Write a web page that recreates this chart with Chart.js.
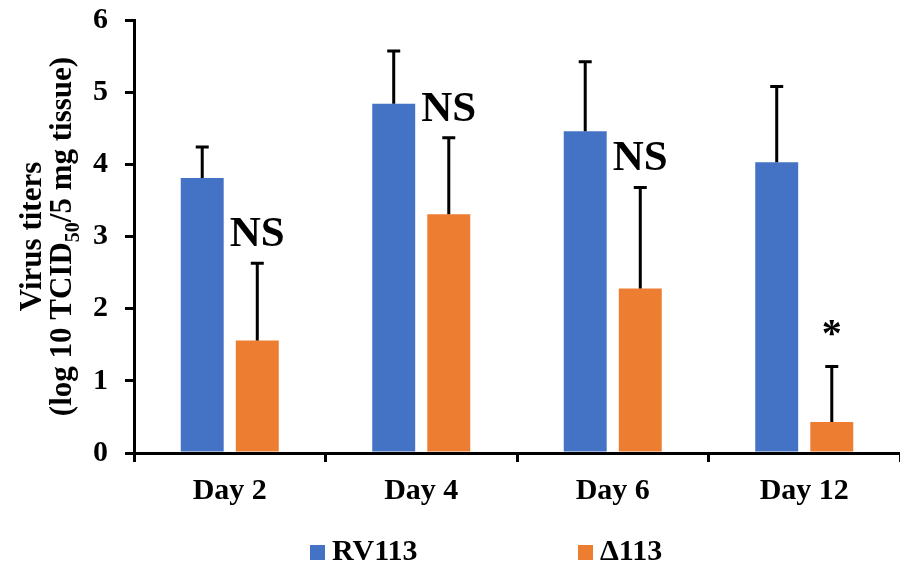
<!DOCTYPE html>
<html>
<head>
<meta charset="utf-8">
<script src="https://cdn.jsdelivr.net/npm/chart.js@4.4.1/dist/chart.umd.min.js"></script>
<style>
  html, body { margin: 0; padding: 0; background: #fff; }
  #wrap { width: 900px; height: 565px; position: relative; }
</style>
</head>
<body>
<div id="wrap"><canvas id="virusChart"></canvas></div>
<script>
// Data
const days = ["Day 2", "Day 4", "Day 6", "Day 12"];
const rv113 = [3.81, 4.84, 4.46, 4.03];
const rv113Err = [0.43, 0.73, 0.96, 1.05];
const d113 = [1.56, 3.31, 2.28, 0.43];
const d113Err = [1.07, 1.06, 1.40, 0.77];
const marks = ["NS", "NS", "NS", "*"];
const yTicks = [0, 1, 2, 3, 4, 5, 6];

const FONT = "'Liberation Serif', 'Times New Roman', serif";
const BLUE = "#4472C4";
const ORANGE = "#ED7D31";

// error bars (upper only) + significance marks
const errorBarPlugin = {
  id: "errorBars",
  afterDatasetsDraw(chart) {
    const ctx = chart.ctx;
    const y = chart.scales.y;
    const errs = [rv113Err, d113Err];
    ctx.save();
    ctx.strokeStyle = "#000";
    ctx.lineWidth = 3;
    chart.data.datasets.forEach((ds, di) => {
      const meta = chart.getDatasetMeta(di);
      meta.data.forEach((bar, i) => {
        const top = y.getPixelForValue(ds.data[i] + errs[di][i]);
        ctx.beginPath();
        ctx.moveTo(bar.x, bar.y);
        ctx.lineTo(bar.x, top);
        ctx.moveTo(bar.x - 6.5, top);
        ctx.lineTo(bar.x + 6.5, top);
        ctx.stroke();
      });
    });
    // marks above the Δ113 error bars
    const meta = chart.getDatasetMeta(1);
    ctx.fillStyle = "#000";
    ctx.textAlign = "center";
    ctx.textBaseline = "alphabetic";
    meta.data.forEach((bar, i) => {
      const top = y.getPixelForValue(d113[i] + d113Err[i]);
      if (marks[i] === "*") {
        ctx.font = "bold 40px " + FONT;
        ctx.fillText(marks[i], bar.x, top - 20);
      } else {
        ctx.font = "bold 43px " + FONT;
        ctx.fillText(marks[i], bar.x, top - 17);
      }
    });
    ctx.restore();
  },
  afterDraw(chart) {
    const ctx = chart.ctx;
    const area = chart.chartArea;
    const cy = (area.top + area.bottom) / 2;
    ctx.save();
    ctx.fillStyle = "#000";
    // y axis title, two lines with subscript
    ctx.translate(0, cy);
    ctx.rotate(-Math.PI / 2);
    ctx.textBaseline = "alphabetic";
    ctx.font = "bold 31px " + FONT;
    ctx.textAlign = "center";
    ctx.fillText("Virus titers", 0, 41);
    const parts = [
      { t: "(log 10 TCID", f: "bold 31px " + FONT, dy: 0 },
      { t: "50", f: "bold 20px " + FONT, dy: 8 },
      { t: "/5 mg tissue)", f: "bold 31px " + FONT, dy: 0 }
    ];
    let total = 0;
    parts.forEach(p => { ctx.font = p.f; p.w = ctx.measureText(p.t).width; total += p.w; });
    let x = -total / 2;
    ctx.textAlign = "left";
    parts.forEach(p => {
      ctx.font = p.f;
      ctx.fillText(p.t, x, 71 + p.dy);
      x += p.w;
    });
    ctx.restore();

    // legend
    ctx.save();
    ctx.font = "bold 30px " + FONT;
    ctx.textBaseline = "alphabetic";
    ctx.textAlign = "left";
    const items = [
      { label: chart.data.datasets[0].label, color: BLUE, x: 310 },
      { label: chart.data.datasets[1].label, color: ORANGE, x: 578 }
    ];
    items.forEach(it => {
      ctx.fillStyle = it.color;
      ctx.fillRect(it.x, 545, 15, 15);
      ctx.fillStyle = "#000";
      ctx.fillText(it.label, it.x + 22, 560);
    });
    ctx.restore();
  }
};

new Chart(document.getElementById("virusChart"), {
  type: "bar",
  data: {
    labels: days,
    datasets: [
      { label: "RV113", data: rv113, backgroundColor: BLUE, barPercentage: 0.78, categoryPercentage: 0.575 },
      { label: "\u0394113", data: d113, backgroundColor: ORANGE, barPercentage: 0.78, categoryPercentage: 0.575 }
    ]
  },
  options: {
    responsive: true,
    maintainAspectRatio: false,
    animation: false,
    layout: { padding: { left: 74, right: 0, top: 20, bottom: 52 } },
    plugins: {
      legend: { display: false },
      tooltip: { enabled: false }
    },
    scales: {
      x: {
        grid: { display: true, drawOnChartArea: false, offset: true, tickLength: 9, color: "#000", lineWidth: 3 },
        border: { color: "#000", width: 3 },
        ticks: { color: "#000", font: { family: FONT, size: 30, weight: "bold" }, padding: 11 },
        afterFit: s => { s.height = 60; }
      },
      y: {
        min: 0,
        max: 6,
        afterBuildTicks: s => { s.ticks = yTicks.map(v => ({ value: v })); },
        grid: { display: true, drawOnChartArea: false, tickLength: 9, color: "#000", lineWidth: 3 },
        border: { color: "#000", width: 3 },
        ticks: { color: "#000", font: { family: FONT, size: 30, weight: "bold" }, padding: 17 },
        afterFit: s => { s.width = 60; s.paddingTop = 0; s.paddingBottom = 0; }
      }
    }
  },
  plugins: [errorBarPlugin]
});
</script>
</body>
</html>
